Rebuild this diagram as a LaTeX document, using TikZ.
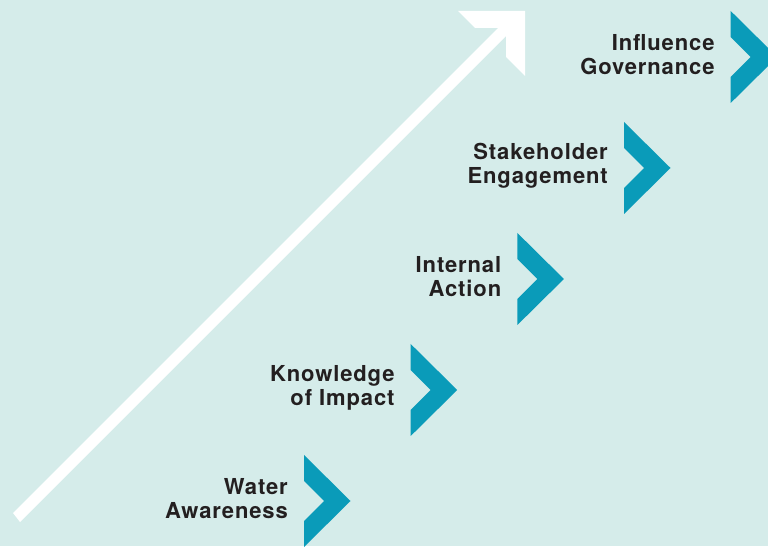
\documentclass[tikz,border=0pt]{standalone}
\usepackage{fontspec}
\setmainfont{TeX Gyre Heros}[LetterSpace=4]
\usepackage{xcolor}
\usetikzlibrary{positioning}

\definecolor{bgteal}{HTML}{D5ECEA}
\definecolor{chevteal}{HTML}{0A9BB9}
\definecolor{labelgrey}{HTML}{231F20}

\begin{document}
\begin{tikzpicture}[
    x=1pt, y=1pt,
    node distance=16pt,
    steplabel/.style={text=labelgrey, font=\fontsize{22}{24}\selectfont\bfseries, align=right, inner sep=0pt, yshift=2pt},
    chevron/.pic={\fill[chevteal] (0,46) -- (46.5,0) -- (0,-46) -- (0,-20) -- (20,0) -- (0,20) -- cycle;}
]

\path[use as bounding box, clip] (0,0) rectangle (768,546);
\fill[bgteal] (0,0) rectangle (768,546);

% rising arrow
\fill[white] (13,33) -- (498,518) -- (475,518) -- (458,535) -- (525,535)
    -- (525,470) -- (506,489) -- (506,510) -- (20,24) -- cycle;

\coordinate (awarenessmark) at (304,45);
\coordinate (knowledgemark) at (410.7,156);
\coordinate (actionmark) at (517.4,267);
\coordinate (engagementmark) at (624,378);
\coordinate (governancemark) at (730.7,489);

\pic at (awarenessmark) {chevron};
\pic at (knowledgemark) {chevron};
\pic at (actionmark) {chevron};
\pic at (engagementmark) {chevron};
\pic at (governancemark) {chevron};

\node[steplabel, left=of awarenessmark] (awareness) {Water\\Awareness};
\node[steplabel, left=of knowledgemark] (knowledge) {Knowledge\\of Impact};
\node[steplabel, left=of actionmark] (action) {Internal\\Action};
\node[steplabel, left=of engagementmark] (engagement) {Stakeholder\\Engagement};
\node[steplabel, left=of governancemark] (governance) {Influence\\Governance};

\end{tikzpicture}
\end{document}
